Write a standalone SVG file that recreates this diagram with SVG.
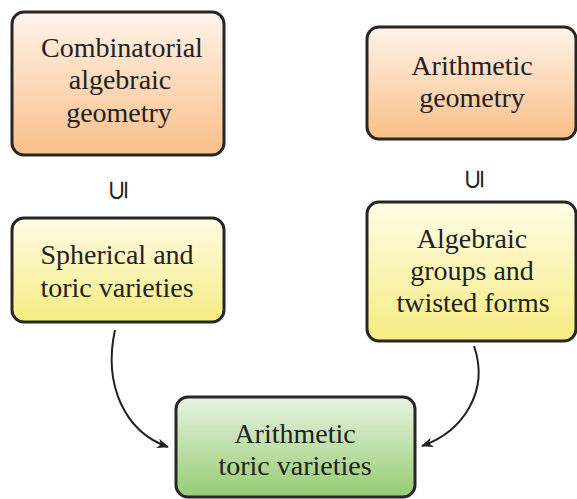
<svg xmlns="http://www.w3.org/2000/svg" width="577" height="499" viewBox="0 0 577 499">
<style>
.box{stroke:#262626;stroke-width:3}
.t{font-family:"Liberation Serif","Times New Roman",serif;font-size:28px;fill:#222;text-anchor:middle}
.sym{font-family:"DejaVu Sans",sans-serif;font-size:27px;fill:#222;text-anchor:middle}
.conn{fill:none;stroke:#222;stroke-width:2}
</style>
<defs>
<linearGradient id="gOr" x1="0" y1="0" x2="0" y2="1"><stop offset="0" stop-color="#fff3ea"/><stop offset="1" stop-color="#f9bf88"/></linearGradient>
<linearGradient id="gYe" x1="0" y1="0" x2="0" y2="1"><stop offset="0" stop-color="#fffce6"/><stop offset="1" stop-color="#f6ec82"/></linearGradient>
<linearGradient id="gGr" x1="0" y1="0" x2="0" y2="1"><stop offset="0" stop-color="#e8f3e2"/><stop offset="1" stop-color="#95cc72"/></linearGradient>
<marker id="arr" viewBox="0 0 12 10" refX="11" refY="5" markerWidth="12" markerHeight="10" markerUnits="userSpaceOnUse" orient="auto">
<path d="M0,0 L12,5 L0,10 L3.5,5 z" fill="#222"/>
</marker>
</defs>
<g id="n1">
<rect class="box" x="12" y="12" width="212" height="143" rx="12" fill="url(#gOr)"/>
<text class="t" x="122" y="57">Combinatorial</text>
<text class="t" x="120" y="89">algebraic</text>
<text class="t" x="119" y="122">geometry</text>
</g>
<g id="n2">
<rect class="box" x="367" y="27" width="209" height="112" rx="12" fill="url(#gOr)"/>
<text class="t" x="472" y="75">Arithmetic</text>
<text class="t" x="472" y="107">geometry</text>
</g>
<g id="n3">
<rect class="box" x="12" y="218" width="212" height="104" rx="12" fill="url(#gYe)"/>
<text class="t" x="117" y="264">Spherical and</text>
<text class="t" x="117" y="297">toric varieties</text>
</g>
<g id="n4">
<rect class="box" x="367" y="202" width="209" height="139" rx="12" fill="url(#gYe)"/>
<text class="t" x="472" y="248">Algebraic</text>
<text class="t" x="472" y="280">groups and</text>
<text class="t" x="473" y="312">twisted forms</text>
</g>
<g id="n5">
<rect class="box" x="176" y="397" width="239" height="100" rx="12" fill="url(#gGr)"/>
<text class="t" x="295" y="443">Arithmetic</text>
<text class="t" x="295" y="475">toric varieties</text>
</g>
<g id="symbols">
<text class="sym" transform="translate(118 190) rotate(-90)" y="9">⊆</text>
<text class="sym" transform="translate(474 179) rotate(-90)" y="9">⊆</text>
</g>
<g id="connectors">
<path class="conn" d="M115,330 C103,385 125,432 168,447" marker-end="url(#arr)"/>
<path class="conn" d="M474,346 C490,392 462,432 422,446" marker-end="url(#arr)"/>
</g>
</svg>
